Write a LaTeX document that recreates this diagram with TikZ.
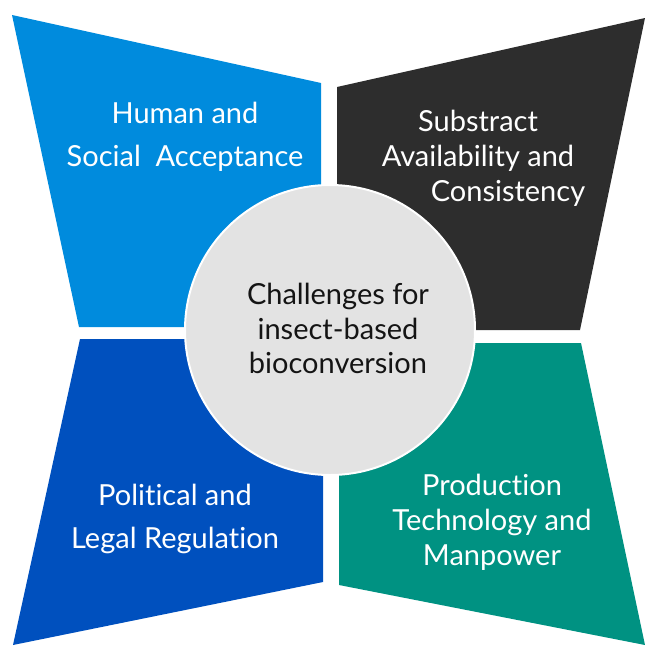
\documentclass[tikz,border=0pt]{standalone}
\usepackage{fontspec}
\setmainfont{Lato}[Ligatures={NoCommon,NoRare,NoContextual}]
\definecolor{skyblue}{RGB}{0,139,221}
\definecolor{charcoal}{RGB}{45,45,45}
\definecolor{royalblue}{RGB}{0,80,190}
\definecolor{seagreen}{RGB}{0,146,130}
\definecolor{discgrey}{RGB}{227,227,227}
\definecolor{inkgrey}{RGB}{20,20,20}
\tikzset{
  panel/.style={draw=none},
  widelabel/.style={text=white, align=center, inner sep=0pt, anchor=north,
    font=\fontsize{29}{43}\selectfont},
  tightlabel/.style={text=white, align=center, inner sep=0pt, anchor=north,
    font=\fontsize{29}{35}\selectfont},
}
\begin{document}
\begin{tikzpicture}[x=1pt,y=-1pt]
\useasboundingbox (0,0) rectangle (645,646);
% four flared panels
\fill[panel, skyblue]   (12,15) -- (321,83) -- (321,327) -- (79,327) -- cycle;
\fill[panel, charcoal]  (337,87) -- (645,18) -- (580,330) -- (337,330) -- cycle;
\fill[panel, royalblue] (80,339) -- (323,339) -- (323,582) -- (13,645) -- cycle;
\fill[panel, seagreen]  (339,343) -- (581,343) -- (645,645) -- (339,585) -- cycle;
% central disc
\node[circle, fill=discgrey, draw=white, line width=2pt, minimum size=290pt,
      inner sep=0pt] (hub) at (330,330) {};
\node[text=inkgrey, align=center, inner sep=0pt, anchor=north,
      font=\fontsize{29}{34.5}\selectfont] (hubtext) at (338,283)
      {Challenges for\\insect-based\\bioconversion};
% panel captions
\node[widelabel] (human) at (185,102) {Human and\\Social\ \ Acceptance};
\node[tightlabel] (substract) at (478,110)
      {Substract\\Availability and\\\hspace*{60pt}Consistency};
\node[widelabel] (political) at (175,484) {Political and\\Legal Regulation};
\node[tightlabel] (production) at (492,474)
      {Production\\Technology and\\Manpower};
\end{tikzpicture}
\end{document}
